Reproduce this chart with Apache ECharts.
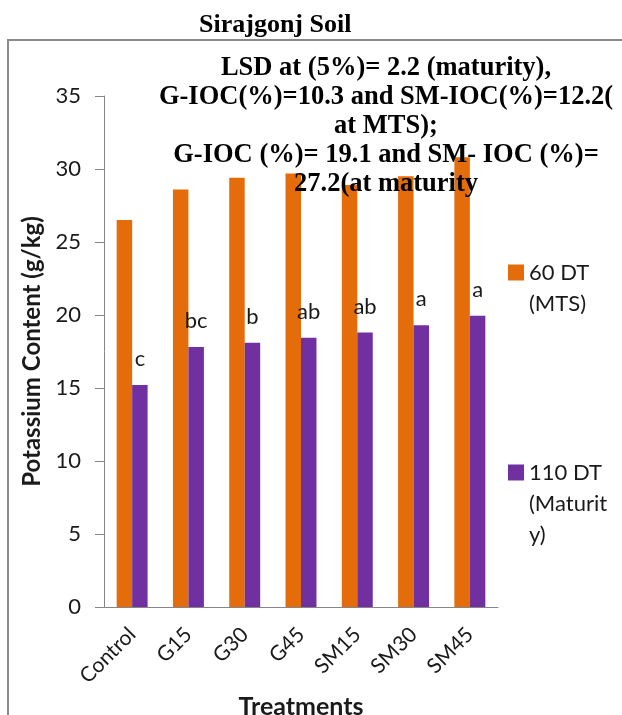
<!DOCTYPE html>
<html><head><meta charset="utf-8">
<script src="https://cdn.jsdelivr.net/npm/echarts@6/dist/echarts.min.js"></script>
<style>html,body{margin:0;padding:0;background:#fff}#c{width:622px;height:715px}</style>
</head><body><div id="c"></div>
<script>
const categories = ['Control', 'G15', 'G30', 'G45', 'SM15', 'SM30', 'SM45'];
const mts = [26.5, 28.6, 29.4, 29.7, 28.9, 29.5, 30.8];
const maturity = [15.2, 17.8, 18.1, 18.45, 18.8, 19.3, 19.95];
const letters = ['c', 'bc', 'b', 'ab', 'ab', 'a', 'a'];
const yMin = 0, yMax = 35, yStep = 5;
const seriesNames = ['60 DT\n(MTS)', '110 DT\n(Maturit\ny)'];
const titleText = 'Sirajgonj Soil';
const noteLines = ['LSD at (5%)= 2.2 (maturity),', 'G-IOC(%)=10.3 and SM-IOC(%)=12.2(', 'at MTS);', 'G-IOC (%)= 19.1 and SM- IOC (%)=', '27.2(at maturity'];
const xName = 'Treatments';
const yName = 'Potassium Content (g/kg)';

const SANS = 'Lato';
const SERIF = '"Liberation Serif", "Times New Roman", serif';
const ORANGE = '#E46C0A', PURPLE = '#7030A0';
const GREYLINE = '#868686', TXT = '#1a1a1a';

// pad a multi-line legend name with leading blank lines so its first line sits level with the icon
const padFirstLine = name => {
  const n = name.split('\n').length;
  return '\n'.repeat(n - 1) + name;
};

const chart = echarts.init(document.getElementById('c'), null, {renderer: 'canvas'});
const legendCommon = {
  orient: 'vertical', left: 508, padding: 0, icon: 'rect',
  itemWidth: 16, itemHeight: 16,
  formatter: padFirstLine,
  textStyle: {fontFamily: SANS, fontSize: 22, lineHeight: 31, color: TXT}
};
chart.setOption({
  backgroundColor: '#fff',
  animation: false,
  title: {
    text: titleText, left: 199, top: 12, padding: 0,
    textStyle: {fontFamily: SERIF, fontWeight: 'bold', fontSize: 26, color: '#000'}
  },
  legend: [
    Object.assign({}, legendCommon, {top: 226, data: [seriesNames[0]]}),
    Object.assign({}, legendCommon, {top: 395, data: [seriesNames[1]]})
  ],
  grid: {left: 104, right: 124, top: 96, bottom: 108, containLabel: false, outerBoundsMode: 'none'},
  xAxis: {
    type: 'category', data: categories,
    axisLine: {lineStyle: {color: GREYLINE, width: 1}},
    axisTick: {show: false},
    axisLabel: {rotate: 45, fontFamily: SANS, fontSize: 21, color: TXT, margin: 24, interval: 0},
    name: xName, nameLocation: 'middle', nameGap: 82,
    nameTextStyle: {fontFamily: SANS, fontWeight: 'bold', fontSize: 25, color: TXT}
  },
  yAxis: {
    type: 'value', min: yMin, max: yMax, interval: yStep,
    axisLine: {show: true, lineStyle: {color: GREYLINE, width: 1}},
    axisTick: {show: true, length: 9, lineStyle: {color: GREYLINE}},
    splitLine: {show: false},
    axisLabel: {fontFamily: SANS, fontSize: 22, color: TXT, margin: 23},
    name: yName, nameLocation: 'middle', nameGap: 59, nameRotate: 90,
    nameTextStyle: {fontFamily: SANS, fontWeight: 'bold', fontSize: 24, color: TXT}
  },
  series: [
    {
      name: seriesNames[0], type: 'bar', data: mts,
      barGap: '0%', barCategoryGap: '45%',
      itemStyle: {color: ORANGE}
    },
    {
      name: seriesNames[1], type: 'bar', data: maturity,
      barGap: '0%', barCategoryGap: '45%',
      itemStyle: {color: PURPLE},
      label: {
        show: true, position: 'top', distance: 15,
        formatter: p => letters[p.dataIndex],
        fontFamily: SANS, fontSize: 22, color: TXT
      }
    }
  ],
  graphic: [
    {
      type: 'rect', z: -10, silent: true,
      shape: {x: 8, y: 40, width: 640, height: 700},
      style: {fill: 'none', stroke: '#8a8a8a', lineWidth: 2}
    },
    {
      type: 'text', z: 100, silent: true,
      style: {
        x: 386, y: 54, text: noteLines.join('\n'),
        font: 'bold 26.5px "Liberation Serif"', lineHeight: 29,
        textAlign: 'center', textVerticalAlign: 'top', fill: '#000'
      }
    }
  ]
});
</script></body></html>
